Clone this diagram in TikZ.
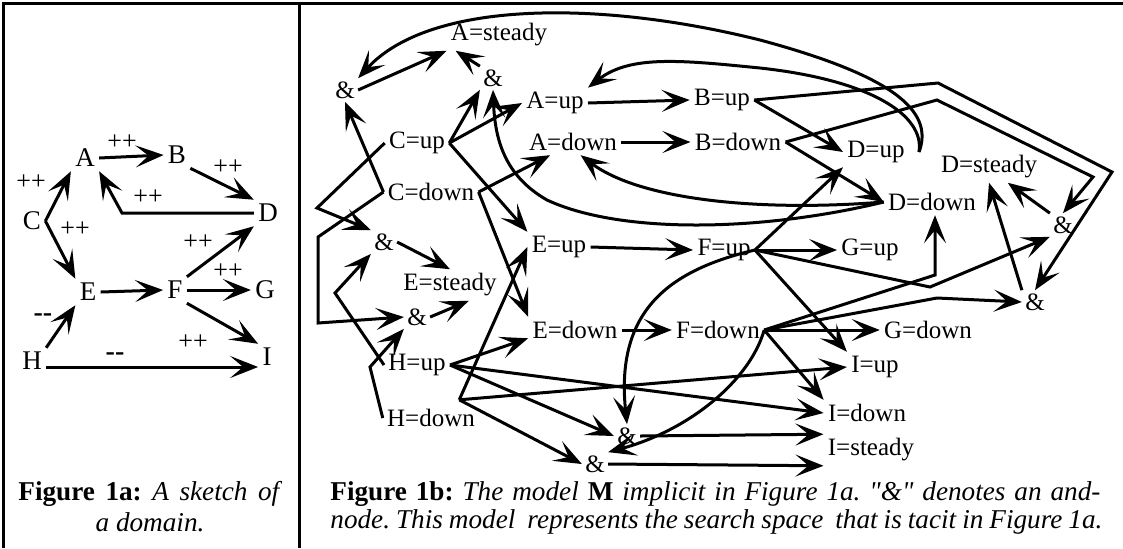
\documentclass[tikz,border=0pt]{standalone}
\usepackage{fontspec}
\setmainfont{Liberation Serif}
\usetikzlibrary{arrows.meta,calc}
\newcommand\figcapfont{\fontsize{13.6}{15}\selectfont\frenchspacing}

\begin{document}
\begin{tikzpicture}[x=0.5pt,y=-0.5pt,
  lab/.style={inner sep=2pt,font=\fontsize{12.5}{15}\selectfont},
  big/.style={inner sep=2pt,font=\fontsize{13.5}{15}\selectfont},
  amp/.style={inner sep=1.5pt,font=\fontsize{12.5}{15}\selectfont},
  sgn/.style={inner sep=0pt,font=\fontsize{13}{14}\selectfont},
  lnk/.style={line width=1.5pt,-{Stealth[length=14pt,width=11pt,inset=6.5pt]}}]
\useasboundingbox (0,0) rectangle (1123,548);
% frame and divider
\draw[line width=1.5pt] (3,548) -- (3,3) -- (1123,3);
\draw[line width=1.5pt] (299,3) -- (299,548);

% ---- left panel: the domain sketch
\node[big] (A) at (85,158) {A};
\node[big] (B) at (177,155) {B};
\node[big] (C) at (32,221) {C};
\node[big] (D) at (268,213) {D};
\node[big] (E) at (88,292) {E};
\node[big] (F) at (175,290) {F};
\node[big] (G) at (265,290) {G};
\node[big] (H) at (32,361) {H};
\node[big] (I) at (267,357) {I};
\draw[lnk] (A.east) -- (B.west);
\draw[lnk] (B.south east) -- (D.north west);
\draw[lnk] (D.west) -- (122,213) -- (A.south east);
\draw[lnk] (C.east) -- (A.south west);
\draw[lnk] (C.east) -- (E.north west);
\draw[lnk] (E.east) -- (F.west);
\draw[lnk] (F.north east) -- (D.south west);
\draw[lnk] (F.east) -- (G.west);
\draw[lnk] (F.south east) -- (I.north west);
\draw[lnk] (H.north east) -- (E.south west);
\draw[lnk] ([yshift=-3pt]H.east) -- ([yshift=-5pt]I.west);
\node[sgn] (sAB) at (122,142) {++};
\node[sgn] (sBD) at (228,167) {++};
\node[sgn] (sDA) at (148,197) {++};
\node[sgn] (sCA) at (31,182) {++};
\node[sgn] (sCE) at (75,229) {++};
\node[sgn] (sFD) at (198,242) {++};
\node[sgn] (sFG) at (228,271) {++};
\node[sgn] (sFI) at (193,342) {++};
\node[sgn,font=\fontsize{14}{15}\selectfont] (sHE) at (43,318) {\textbf{-{}-}};
\node[sgn,font=\fontsize{14}{15}\selectfont] (sHI) at (115,357) {\textbf{-{}-}};

% ---- right panel: qualitative states and and-nodes
\node[lab] (ast) at (499,35) {A=steady};
\node[lab] (aup) at (555,103) {A=up};
\node[lab] (adn) at (573,142) {A=down};
\node[lab] (bup) at (722,100) {B=up};
\node[lab] (bdn) at (738,142) {B=down};
\node[lab] (cup) at (417,143) {C=up};
\node[lab] (cdn) at (431,192) {C=down};
\node[lab] (dup) at (876,152) {D=up};
\node[lab] (dst) at (989,167) {D=steady};
\node[lab] (ddn) at (932,202) {D=down};
\node[lab] (est) at (450,285) {E=steady};
\node[lab] (eup) at (559,247) {E=up};
\node[lab] (edn) at (575,330) {E=down};
\node[lab] (fup) at (724,250) {F=up};
\node[lab] (fdn) at (718,330) {F=down};
\node[lab] (gup) at (870,250) {G=up};
\node[lab] (gdn) at (928,330) {G=down};
\node[lab] (hup) at (417,365) {H=up};
\node[lab] (hdn) at (431,418) {H=down};
\node[lab] (iup) at (875,367) {I=up};
\node[lab] (idn) at (867,413) {I=down};
\node[lab] (ist) at (871,450) {I=steady};
\node[amp] (and1) at (345,90) {\&};
\node[amp] (and2) at (493,78) {\&};
\node[amp] (and3) at (384,242) {\&};
\node[amp] (and4) at (417,317) {\&};
\node[amp] (and5) at (1063,225) {\&};
\node[amp] (and6) at (1035,302) {\&};
\node[amp] (and7) at (627,436) {\&};
\node[amp] (and8) at (595,464) {\&};
\coordinate (k1) at (935,275);
\coordinate (k2) at (930,287);
\coordinate (k3) at (937,298);
\coordinate (hdnr) at ($(hdn.north east)+(-20,-5)$);

% straight influences
\draw[lnk] (aup.east) -- (bup.west);
\draw[lnk] (adn.east) -- (bdn.west);
\draw[lnk] (eup.east) -- (fup.west);
\draw[lnk] (edn.east) -- (fdn.west);
\draw[lnk] (fup.east) -- (gup.west);
\draw[lnk] (fdn.east) -- (gdn.west);
\draw[lnk] (bup.east) -- (dup.west);
\draw[lnk] (bdn.east) -- (ddn.west);
\draw[lnk] (fup.east) -- (dup.south west);
\draw[lnk] (fup.east) -- (iup.north west);
\draw[lnk] (fdn.east) -- (idn.north west);
\draw[lnk] (fdn.east) -- (k1) -- (k1 |- ddn.south);
\draw[lnk] (fup.east) -- (k2) -- (and5.south west);
\draw[lnk] (fdn.east) -- (k3) -- (and6.west);
\draw[lnk] (bup.east) -- (938,83) -- (1112,172) -- (and6.north);
\draw[lnk] (bdn.east) -- (937,100) -- (1093,177) -- (and5.north);
\draw[lnk] (and5.north west) -- (dst.-40);
\draw[lnk] (and6.north west) -- (dst.south);
\draw[lnk] (cup.east) -- (aup.west);
\draw[lnk] (cup.east) -- (and2.south west);
\draw[lnk] (cup.east) -- (eup.north west);
\draw[lnk] (cdn.east) -- (adn.-150);
\draw[lnk] (cdn.east) -- (edn.north west);
\draw[lnk] (cdn.west) -- (and1.south);
\draw[lnk] (cdn.west) -- (318,237) -- (318,323) -- (and4.west);
\draw[lnk] (cup.west) -- (317,208) -- (and3.north west);
\draw[lnk] (hup.west) -- (335,293) -- (and3.south west);
\draw[lnk] (hdn.west) -- (370,367) -- (and4.south west);
\draw[lnk] (and1.east) -- (ast.south west);
\draw[lnk] (and2.north west) -- (ast.-160);
\draw[lnk] (and3.east) -- (est.north);
\draw[lnk] (and4.east) -- (est.-40);
\draw[lnk] (hup.east) -- (edn.-170);
\draw[lnk] (hup.east) -- (idn.west);
\draw[lnk] (hup.east) -- (and7.west);
\draw[lnk] (hdnr) -- (eup.west);
\draw[lnk] (hdnr) -- (iup.west);
\draw[lnk] (hdnr) -- (and8.west);
\draw[lnk] (and7.east) -- (ist.north west);
\draw[lnk] (and8.east) -- (ist.south west);

% curved links
\draw[lnk] (fup.east) .. controls (670,270) and (615,310) .. (and7.north);
\draw[lnk] (fdn.east) .. controls (750,380) and (690,430) .. (and8.north east);
\draw[lnk] (ddn.west) .. controls (760,212) and (640,200) .. (adn.-60);
\draw[lnk] (ddn.west) .. controls (760,232) and (620,234) .. (547,200)
  .. controls (505,176) and (495,140) .. (and2.south);
\draw[lnk] ([xshift=5pt]dup.east) .. controls (935,110) and (890,75) .. (760,40)
  .. controls (600,0) and (430,0) .. (and1.north east);
\draw[lnk] ([xshift=5pt]dup.east) .. controls (925,115) and (870,80) .. (760,68)
  .. controls (680,60) and (630,55) .. (aup.north east);

% captions
\node[anchor=west,inner sep=0pt,font=\figcapfont] (capa1) at (18,494)
  {\makebox[132pt][s]{\textbf{Figure 1a:} \textit{A sketch of}}};
\node[inner sep=0pt,font=\figcapfont] (capa2) at (150,522) {\textit{a domain.}};
\node[anchor=west,inner sep=0pt,font=\figcapfont] (capb1) at (330,494)
  {\makebox[385pt][s]{\textbf{Figure 1b:} \textit{The model} \textbf{M} \textit{implicit in Figure 1a. \textquotedbl\&\textquotedbl{} denotes an and-}}};
\node[anchor=west,inner sep=0pt,font=\figcapfont] (capb2) at (330,522)
  {\makebox[386pt][s]{\textit{node. This model\ \ represents the search space\ \ that is tacit in Figure 1a.}}};
\end{tikzpicture}
\end{document}
